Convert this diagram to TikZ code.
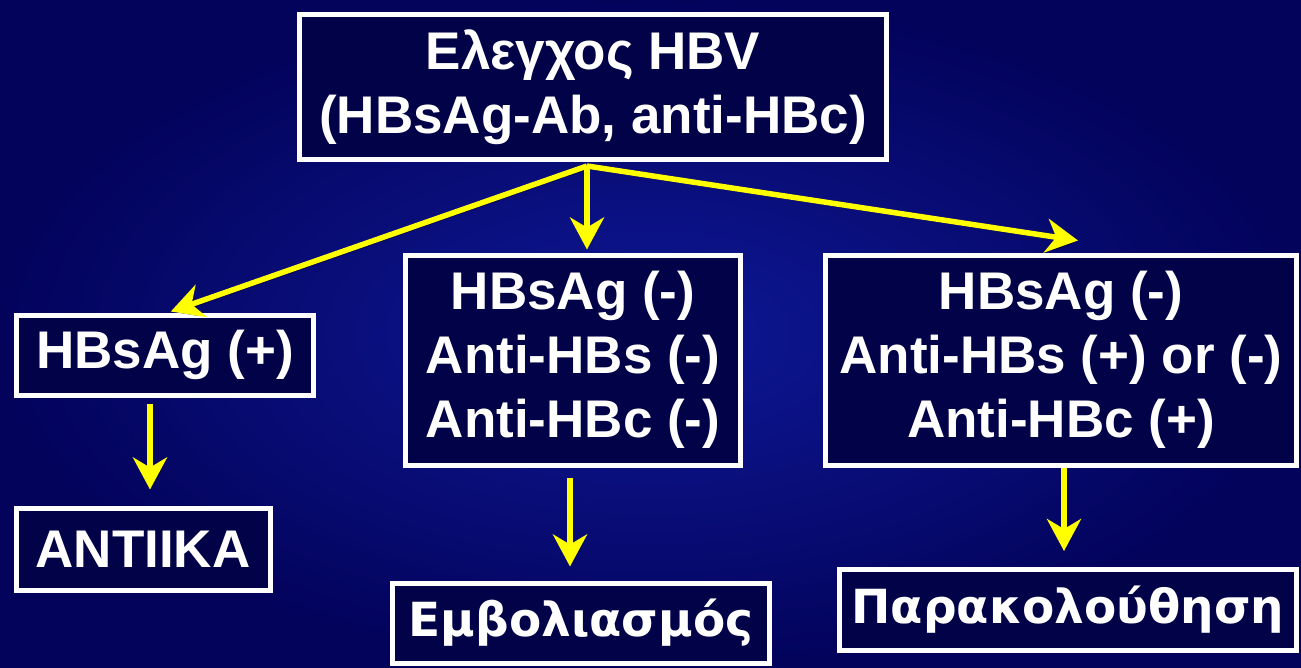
\documentclass[tikz,border=0pt]{standalone}
\usepackage{fontspec}
\setmainfont{Liberation Sans}
\newfontfamily\greekfont{DejaVu Sans}
\usetikzlibrary{arrows.meta}
\definecolor{bginner}{RGB}{14,24,150}
\definecolor{bgouter}{RGB}{3,3,92}
\definecolor{boxblue}{RGB}{2,2,72}
\definecolor{arrowyellow}{RGB}{255,255,0}

\begin{document}
\begin{tikzpicture}[x=1pt,y=-1pt,
  box/.style={draw=white, line width=5pt, fill=boxblue, text=white, align=center, inner sep=0pt,
    font=\fontsize{53}{64}\selectfont\bfseries},
  greekbox/.style={box, font=\greekfont\fontsize{47}{56}\selectfont\bfseries},
  arrow/.style={draw=arrowyellow, line width=5.5pt, -{Stealth[length=32pt,width=34pt,inset=10pt]},
    preaction={draw=black, opacity=0.45, transform canvas={shift={(2pt,-3pt)}}}}]

% background
\shade[inner color=bginner, outer color=bgouter] (0,0) rectangle (1301,667);
\useasboundingbox (0,0) rectangle (1301,667);

% top
\node at (593,87) [box, minimum width=587pt, minimum height=145pt] (hbv) {Ελεγχος HBV\\(HBsAg-Ab, anti-HBc)};

% results
\node at (165,355) [box, minimum width=297pt, minimum height=80pt] (pos) {HBsAg (+)};
\node at (573,360) [box, minimum width=335pt, minimum height=210pt] (neg) {HBsAg (-)\\Anti-HBs (-)\\Anti-HBc (-)};
\node at (1061,360) [box, minimum width=471pt, minimum height=210pt] (core) {HBsAg (-)\\Anti-HBs (+) or (-)\\Anti-HBc (+)};

% actions
\node at (143,549) [box, minimum width=254pt, minimum height=82pt] (antiika) {ΑΝΤΙΙΚΑ};
\node at (581,623) [greekbox, minimum width=377pt, minimum height=80pt] (vacc) {Εμβολιασμός};
\node at (1068,610) [greekbox, minimum width=457pt, minimum height=81pt] (follow) {Παρακολούθηση};

% connectors
\coordinate (fork) at (587,166);
\draw[arrow, shorten >=3pt] (fork) -- ([xshift=3pt]pos.north);
\draw[arrow, shorten >=3pt] (fork) -- (fork |- neg.north);
\draw[arrow] (fork) -- ([xshift=17pt,yshift=12pt]core.north);
\draw[arrow, shorten <=6pt, shorten >=16pt] ([xshift=-15pt]pos.south) -- ([xshift=-15pt]pos.south |- antiika.north);
\draw[arrow, shorten <=10pt, shorten >=14pt] ([xshift=-3pt]neg.south) -- ([xshift=-3pt]neg.south |- vacc.north);
\draw[arrow, shorten >=16pt] ([xshift=3pt]core.south) -- ([xshift=3pt]core.south |- follow.north);

\end{tikzpicture}
\end{document}
